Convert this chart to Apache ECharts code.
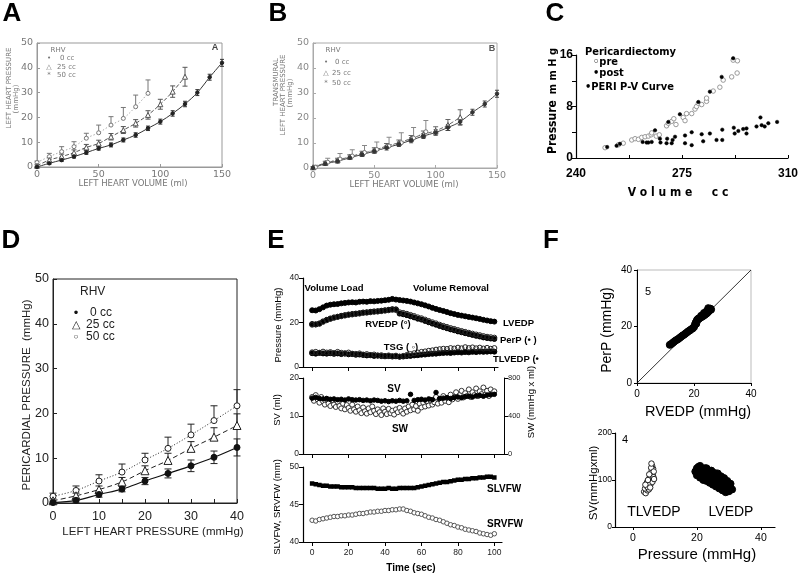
<!DOCTYPE html>
<html><head><meta charset="utf-8">
<script src="https://cdn.jsdelivr.net/npm/echarts@6/dist/echarts.min.js"></script>
<style>html,body{margin:0;padding:0;background:#fff}#c{width:800px;height:573px}</style>
</head><body><div id="c"></div><script>
// ---------- Panel A: left heart pressure vs volume ----------
const aVol0 = [0,10,20,30,40,50,60,70,80,90,100,110,120,130,140,150];
const aP0 = [0,1.5,2.8,4.2,5.8,7.5,8.9,10.9,12.9,15.6,18.3,21.6,25.4,30.0,36.2,42.0];
const aP0Err = [0.3,0.5,0.6,0.6,0.7,0.7,0.8,0.8,0.9,0.9,1.0,1.1,1.1,1.2,1.2,1.4];
const aVol25 = [0,10,20,30,40,50,60,70,80,90,100,110,120];
const aP25 = [0.5,2.8,4.2,5.8,7.9,9.5,12.2,14.9,17.6,21.0,25.3,30.4,36.4];
const aP25Err = [0.4,0.9,1.0,1.1,1.2,1.3,1.3,1.4,1.5,1.7,2.0,2.3,3.8];
const aVol50 = [0,10,20,30,40,50,60,70,80,90];
const aP50 = [1.8,4.2,6.2,8.2,11.6,13.8,16.9,19.6,24.3,29.7];
const aP50Err = [0.6,1.3,2.0,2.0,2.0,3.1,3.4,4.4,4.7,5.4];
// ---------- Panel B: transmural pressure ----------
const bVol0 = [0,10,20,30,40,50,60,70,80,90,100,110,120,130,140,150];
const bP0 = [0,1.7,2.7,4.1,5.4,6.7,8.1,9.5,11.1,12.8,14.2,16.2,18.5,22.3,25.6,29.7];
const bP0Err = [0.2,0.6,0.7,0.7,0.8,0.8,0.9,0.9,1.0,1.0,1.1,1.2,1.3,1.2,1.2,1.4];
const bVol25 = [0,10,20,30,40,50,60,70,80,90,100,110,120];
const bP25 = [0.3,2.0,3.1,4.5,5.8,7.1,8.8,10.1,11.8,13.5,14.9,17.2,20.3];
const bP25Err = [0.3,0.7,0.8,0.8,0.9,1.0,1.0,1.1,1.2,1.3,1.6,2.2,3.0];
const bVol50 = [2,12,22,32,42,52,62,72,82,92];
const bP50 = [0.3,2.3,3.6,4.8,6.2,7.4,8.8,10.1,12.0,14.5];
const bP50Err = [0.8,1.6,2.2,2.5,2.8,3.0,3.5,4.0,4.2,4.5];
// ---------- Panel C: pericardiectomy ----------
const cPreVol = [249.6,254.0,255.6,258.4,259.5,260.6,261.7,262.8,263.9,264.8,265.0,266.5,267.5,269.9,270.5,271.6,272.3,273.0,275.4,276.0,276.5,278.2,279.3,279.8,280.4,281.5,283.1,283.1,285.3,287.5,288.6,291.4,291.9,293.3,293.2];
const cPrePres = [1.6,2.05,2.3,2.8,3.0,2.9,3.2,3.3,3.4,3.6,3.9,3.4,3.6,5.0,5.4,5.7,6.1,5.2,6.3,5.8,6.9,6.9,7.6,8.0,8.5,8.3,8.8,9.3,10.4,11.0,12.1,12.6,15.2,15.1,13.2];
const cPostVol = [250.3,253.4,254.5,262.0,263.3,263.9,265.0,266.1,267.7,267.9,269.9,270.1,271.6,271.9,272.7,270.5,274.3,276.0,276.0,278.2,278.2,280.4,281.5,282.0,284.2,284.2,286.4,288.1,288.3,288.3,291.9,292.1,292.4,293.6,295.2,296.3,296.3,299.6,300.9,301.3,302.3,303.5,306.4];
const cPostPres = [1.7,1.9,2.2,2.5,2.4,2.4,2.5,4.3,3.0,2.4,2.3,3.0,2.3,2.8,3.3,5.6,6.8,3.5,2.3,4.0,2.0,8.7,3.7,2.6,10.3,3.8,2.8,12.6,4.4,2.8,15.5,4.7,3.8,4.2,4.5,4.6,3.8,4.9,6.3,5.1,4.9,5.4,5.6];
// ---------- Panel D: pericardial pressure ----------
const dLHP = [0,5,10,15,20,25,30,35,40];
const dP0 = [0.1,0.6,1.9,3.1,4.9,6.6,8.3,10.2,12.4];
const dP0Err = [0.3,0.4,0.6,0.6,0.8,1.0,1.3,1.4,1.9];
const dP25 = [0.5,1.6,3.0,4.7,7.2,9.5,12.2,14.7,17.3];
const dP25Err = [0.4,0.6,0.8,1.0,1.1,1.6,1.5,2.1,2.6];
const dP50 = [1.5,2.8,4.9,6.9,9.6,12.2,15.2,18.4,21.7];
const dP50Err = [0.7,1.0,1.4,1.8,1.5,2.5,2.4,3.3,3.6];
// ---------- Panel E: time courses ----------
const eTime = [0,2,4,6,8,10,12,14,16,18,20,22,24,26,28,30,32,34,36,38,40,42,44,46,48,50,52,54,56,58,60,62,64,66,68,70,72,74,76,78,80,82,84,86,88,90,92,94,96,98,100];
const eLVEDP = [25.5,25.4,26.0,26.8,27.6,28.0,28.2,28.3,28.6,28.8, 29.0,29.1,29.0,29.3,29.4,29.3,29.6,29.5,29.7,29.8, 30.0,30.2,30.6,30.3,30.1,29.9,29.7,29.4,29.0,28.6, 28.2,27.7,27.2,26.6,26.1,25.6,25.2,24.7,24.2,23.8, 23.4,23.1,22.8,22.5,22.2,21.9,21.6,21.2,20.9,20.6, 20.4];
const ePerP = [19.3,19.1,19.6,20.5,21.2,21.8,22.3,22.6,23.0,23.3, 23.6,23.8,24.0,24.2,24.5,24.6,24.8,25.0,25.1,25.3, 25.5,25.7,26.0,25.9,24.0,23.7,23.3,22.8,22.3,21.7, 21.3,20.7,20.1,19.5,19.0,18.4,17.9,17.4,16.9,16.5, 16.0,15.6,15.2,14.8,14.4,14.0,13.7,13.3,13.0,12.8, 12.6];
const eRVEDP = [19.0,19.2,19.4,20.3,21.0,21.6,22.1,22.5,22.8,23.1, 23.4,23.6,23.8,24.0,24.3,24.4,24.6,24.8,24.9,25.1, 25.3,25.5,25.7,25.6,24.6,24.3,23.9,23.4,22.9,22.3, 21.9,21.3,20.7,20.1,19.6,19.0,18.5,18.0,17.5,17.1, 16.6,16.2,15.8,15.4,15.0,14.6,14.3,13.9,13.6,13.4, 13.2];
const eTLVEDP = [6.2,6.0,6.3,6.1,6.0,6.2,5.9,6.1,5.8,6.0, 5.7,5.8,5.5,5.6,5.4,5.2,5.3,5.0,5.1,4.9, 4.8,4.9,4.7,4.8,4.6,4.7,4.9,5.0,5.2,5.3, 5.5,5.6,5.8,5.9,6.0,6.2,6.3,6.4,6.3,6.5, 6.6,6.5,6.7,6.6,6.8,6.7,6.9,6.8,6.9,7.0, 6.9];
const eTSG = [6.6,6.8,6.4,6.9,6.5,6.7,6.3,6.8,6.4,6.2, 6.5,6.0,5.9,6.1,5.6,5.8,5.4,5.6,5.2,5.3, 5.0,5.2,4.9,5.1,4.7,5.0,5.4,5.8,6.2,6.5, 6.8,7.0,7.3,7.5,7.8,8.0,8.2,8.1,8.5,8.3, 8.7,8.4,8.9,8.5,8.8,8.4,8.7,8.3,8.6,8.2, 8.5];
const eSV = [14.7,14.9,14.6,14.5,14.6,14.4,14.5,14.3,14.4,14.2, 14.5,14.3,14.2,14.3,14.1,14.2,14.0,14.2,14.1,13.9, 14.0,13.8,14.0,13.9,14.1,13.9,14.0,15.7,14.1,14.3, 14.4,14.2,14.5,14.3,16.2,14.6,14.7,14.8,14.6,14.9, 15.0,14.8,15.1,15.2,15.0,15.3,15.4,15.2,15.5,15.6, 15.7];
const eTimeSW = [0,1,2,3,4,5,6,7,8,9,10,11,12,13,14,15,16,17,18,19,20,21,22,23,24,25,26,27,28,29,30,31,32,33,34,35,36,37,38,39,40,41,42,43,44,45,46,47,48,49,50,51,52,53,54,55,56,57,58,59,60,61,62,63,64,65,66,67,68,69,70,71,72,73,74,75,76,77,78,79,80,81,82,83,84,85,86,87,88,89,90,91,92,93,94,95,96,97,98,99,100];
const eSW = [600,560,620,575,540,600,555,520,580,530, 505,565,520,495,550,505,480,530,470,515, 485,455,520,470,445,500,460,430,490,450, 425,480,440,500,455,420,470,440,410,480, 445,420,475,430,455,415,470,440,485,450, 425,480,445,500,460,520,470,505,455,530, 490,540,500,555,510,570,520,545,600,530, 575,540,610,560,590,545,625,575,600,650, 580,620,665,595,640,610,680,600,650,620, 690,610,660,630,700,625,665,610,680,640, 660];
const eSLVFW = [47.8,47.7,47.6,47.5,47.5,47.4,47.4,47.4,47.3,47.3, 47.3,47.3,47.2,47.2,47.2,47.2,47.2,47.2,47.1,47.1, 47.1,47.2,47.1,47.1,47.2,47.2,47.2,47.2,47.2,47.3, 47.4,47.5,47.6,47.7,47.8,47.9,48.0,48.0,48.1,48.2, 48.3,48.3,48.4,48.4,48.5,48.5,48.6,48.6,48.7,48.7, 48.6];
const eSRVFW = [42.9,42.8,43.0,43.1,43.2,43.3,43.4,43.4,43.5,43.5, 43.6,43.6,43.7,43.8,43.8,43.9,44.0,44.0,44.1,44.1, 44.2,44.2,44.3,44.3,44.4,44.4,44.2,44.1,43.9,43.8, 43.7,43.5,43.3,43.2,43.0,42.9,42.7,42.5,42.3,42.2, 42.0,41.9,41.7,41.6,41.5,41.4,41.2,41.1,41.0,40.9, 41.1];
// ---------- Panel F ----------
const fRVEDP = [11.5,12,12.5,13,13.5,14,14.5,15,15.5,16,16.5,17,17.5,18,18.5,19,19.5,20,20.3,20.6,21,21.3,21.6,22,22.4,22.8,23.2,23.6,24,24.4,24.8,25.2,25.6,25.8,24.5,23.5,22.5,21.5,20.8,25,26];
const fPerP = [13.5,13.8,14.2,14.6,15.0,15.3,15.6,16.0,16.4,16.8,17.1,17.5,17.9,18.3,18.6,19.0,19.3,19.8,20.6,21.4,22.2,22.6,22.8,23.0,23.2,23.5,23.7,24.0,24.3,24.6,25.0,25.4,25.8,26.3,25.5,24.8,23.8,22.5,21.0,26.5,26.0];
const fTLVEDPx = [3.5,4,4.5,3.8,4.2,5,4.6,5.3,4.4,5,5.6,5.2,6,5.5,6.2,5.8,6.4,5.9,6.3,6,5.7,6.5,4.9,3.9,5.4,6.1,5.1,6.6,4.7,5.8];
const fTLVEDPy = [75,72,78,82,88,80,85,90,95,98,92,104,100,108,110,115,106,120,124,130,126,118,92,90,84,96,112,102,100,135];
const fLVEDPx = [19.5,20,20.5,21,21,21.5,22,22,22.5,23,23,23.5,24,24,24.5,25,25,25.5,26,26,26.5,27,27,27.5,28,28,28.5,29,29,29.5,30,30,30.5,29,28,27,26,25,24,23,22,21,20,20.5,22.5,24.5,26.5,28.5,30.5,20,21.5,23.5,25.5,27.5,29.5,31];
const fLVEDPy = [118,125,112,130,120,115,122,108,118,112,125,105,115,102,110,98,112,105,95,108,100,90,104,96,86,100,92,84,96,80,88,76,82,74,78,82,86,90,94,98,100,105,110,128,125,120,114,104,92,116,122,118,115,108,98,80];
const fDiag = [0,40];

const LS = 'Liberation Sans, Arial, sans-serif';
const DJ = 'DejaVu Sans, sans-serif';
const NR = 'Liberation Sans Narrow, DejaVu Sans Condensed, Arial Narrow, sans-serif';

function pairs(xs, ys){ return xs.map((x,i)=>[x, ys[i]]); }

function vAxis(gi, min, max, o){
  const ax = {type:'value', gridIndex:gi, min:min, max:max, position:o.pos,
    splitLine:{show:false},
    axisLine:{show:true, onZero:false, lineStyle:{color:o.color||'#000', width:o.lw||1}},
    axisTick:{show:true, inside:!!o.tickIn, length:o.tickLen||4, lineStyle:{color:o.color||'#000', width:1}},
    axisLabel:{show:o.labels!==null, fontSize:o.fs||10, color:o.lc||'#000', fontFamily:o.ff||LS, fontWeight:o.fw||'normal', margin:o.margin==null?4:o.margin, hideOverlap:false}
  };
  if (o.ticks) ax.axisTick.customValues = o.ticks;
  if (o.labels) ax.axisLabel.customValues = o.labels;
  return ax;
}

function errBars(xs, ys, lo, hi, xi, yi, color, cap){
  return {type:'custom', xAxisIndex:xi, yAxisIndex:yi, silent:true, z:3, clip:false, animation:false,
    data: xs.map((x,i)=>[x, ys[i]-lo[i], ys[i]+hi[i], lo[i]>0?1:0]),
    encode:{x:0, y:[1,2]},
    renderItem: function(params, api){
      const a = api.coord([api.value(0), api.value(1)]);
      const b = api.coord([api.value(0), api.value(2)]);
      const st = {stroke:color, lineWidth:1};
      const ch = [
        {type:'line', shape:{x1:a[0],y1:a[1],x2:b[0],y2:b[1]}, style:st},
        {type:'line', shape:{x1:b[0]-cap,y1:b[1],x2:b[0]+cap,y2:b[1]}, style:st}];
      if (api.value(3)) ch.push({type:'line', shape:{x1:a[0]-cap,y1:a[1],x2:a[0]+cap,y2:a[1]}, style:st});
      return {type:'group', children:ch};
    }};
}
function curve(xs, ys, ax, o){
  return {type:'line', xAxisIndex:ax, yAxisIndex:ax, data:pairs(xs,ys), smooth:0.35, silent:true, z:4,
    symbol:o.symbol, symbolSize:o.size, showAllSymbol:true,
    itemStyle:{color:o.fill, borderColor:o.stroke, borderWidth:1},
    lineStyle:{color:o.lc, width:o.lw||1, type:o.dash||'solid'}};
}
function dots(xs, ys, xi, yi, o){
  return {type:'scatter', xAxisIndex:xi, yAxisIndex:yi, data:pairs(xs,ys), silent:true, z:o.z||4,
    symbol:o.symbol||'circle', symbolSize:o.size,
    itemStyle:{color:o.fill, borderColor:o.stroke, borderWidth:o.bw==null?1:o.bw, opacity:1}};
}
function T(x, y, text, o){
  o = o || {};
  return {type:'text', x:x, y:y, rotation:o.rot?Math.PI/2:0, silent:true, z:50,
    style:{text:text, fill:o.color||'#000', fontSize:o.fs||10, fontFamily:o.ff||LS, fontWeight:o.fw||'normal',
      align:o.align||'center', verticalAlign:'middle', lineHeight:o.lh}};
}

const grids = [
  {left:37, top:43, width:185, height:124, show:true, borderColor:'#999', borderWidth:1},   // A
  {left:313, top:43, width:184, height:125, show:true, borderColor:'#aaa', borderWidth:1},  // B
  {left:576, top:55, width:212, height:103},                                                 // C
  {left:53, top:279, width:184, height:224, show:true, borderColor:'#222', borderWidth:1},  // D
  {left:303, top:278, width:195, height:89},                                                 // E1
  {left:303, top:378, width:201, height:76},                                                 // E2
  {left:303, top:467, width:199, height:75},                                                 // E3
  {left:637, top:270, width:114, height:113, show:true, borderColor:'#bbb', borderWidth:1}, // F1
  {left:615, top:433, width:160, height:94}                                                  // F2
].map(g => Object.assign({outerBoundsMode:'none', containLabel:false}, g));

const tE = [0,20,40,60,80,100];
const xAxes = [
  vAxis(0, 0, 150, {color:'#999', lc:'#777', ff:DJ, fs:9.5, tickIn:true, tickLen:3, margin:3, ticks:[0,50,100,150], labels:[0,50,100,150]}),
  vAxis(1, 0, 150, {color:'#aaa', lc:'#888', ff:DJ, fs:9.5, tickIn:true, tickLen:3, margin:3, ticks:[0,50,100,150], labels:[0,50,100,150]}),
  vAxis(2, 240, 310, {lw:1.2, fs:12, fw:'bold', tickIn:true, tickLen:3, margin:10, ticks:[240,257.5,275,292.5,310], labels:[240,275,310]}),
  vAxis(3, 0, 40, {color:'#222', lc:'#222', fs:12.5, tickIn:true, tickLen:4, margin:7, ticks:[0,5,10,15,20,25,30,35,40], labels:[0,10,20,30,40]}),
  vAxis(4, -5, 102, {lw:1.2, tickLen:4, ticks:tE, labels:null}),
  vAxis(5, -5, 105.3, {lw:1.2, tickLen:4, ticks:tE, labels:null}),
  vAxis(6, -5, 104.2, {lw:1.2, tickLen:4, fs:8.5, lc:'#222', margin:6, ticks:tE, labels:tE}),
  vAxis(7, 0, 40, {lw:1, fs:10, margin:6, tickLen:3, ticks:[0,20,40], labels:[0,20,40]}),
  vAxis(8, -5.6, 44.4, {lw:1.2, fs:10.5, margin:6, tickLen:3, ticks:[0,20,40], labels:[0,20,40]})
];
const yAxes = [
  vAxis(0, 0, 50, {color:'#999', lc:'#777', ff:DJ, fs:9.5, tickIn:true, tickLen:3, margin:4, ticks:[0,10,20,30,40,50], labels:[0,10,20,30,40,50]}),
  vAxis(1, 0, 50, {color:'#aaa', lc:'#888', ff:DJ, fs:9.5, tickIn:true, tickLen:3, margin:4, ticks:[0,10,20,30,40,50], labels:[0,10,20,30,40,50]}),
  vAxis(2, 0, 16, {lw:1.2, fs:12, fw:'bold', tickLen:4, margin:3, ticks:[0,4,8,12,16], labels:[0,8,16]}),
  vAxis(3, 0, 50, {color:'#222', lc:'#222', fs:12.5, tickIn:true, tickLen:4, margin:4, ticks:[0,10,20,30,40,50], labels:[0,10,20,30,40,50]}),
  vAxis(4, 0, 40, {lw:1.2, fs:8.5, lc:'#222', tickLen:4, margin:4, ticks:[0,20,40], labels:[0,20,40]}),
  vAxis(5, 0, 20, {lw:1.2, fs:8.5, lc:'#222', tickLen:4, margin:4, ticks:[0,10,20], labels:[0,10,20]}),
  vAxis(5, 0, 800, {pos:'right', lw:1, fs:7.5, lc:'#222', tickLen:4, margin:4, ticks:[0,400,800], labels:[0,400,800]}),
  vAxis(6, 40, 50, {lw:1.2, fs:8.5, lc:'#222', tickLen:4, margin:4, ticks:[40,45,50], labels:[40,45,50]}),
  vAxis(7, 0, 40, {lw:1, fs:10, tickLen:3, margin:5, ticks:[0,20,40], labels:[0,20,40]}),
  vAxis(8, 0, 200, {lw:1.2, fs:8.5, tickLen:3, margin:3, ticks:[0,100,200], labels:[0,100,200]})
];

const series = [
  // A
  errBars(aVol50, aP50, aP50.map(()=>0), aP50Err, 0, 0, '#777', 2.5),
  errBars(aVol25, aP25, aP25Err, aP25Err, 0, 0, '#555', 2.5),
  errBars(aVol0, aP0, aP0Err, aP0Err, 0, 0, '#333', 2),
  curve(aVol50, aP50, 0, {symbol:'circle', size:4, fill:'#fff', stroke:'#777', lc:'#aaa', dash:[1.5,2]}),
  curve(aVol25, aP25, 0, {symbol:'triangle', size:5, fill:'#fff', stroke:'#555', lc:'#555', dash:[4,2]}),
  curve(aVol0, aP0, 0, {symbol:'circle', size:3.5, fill:'#222', stroke:'#222', lc:'#333'}),
  // B
  errBars(bVol50, bP50, bP50.map(()=>0), bP50Err, 1, 1, '#888', 2.5),
  errBars(bVol25, bP25, bP25Err, bP25Err, 1, 1, '#666', 2.5),
  errBars(bVol0, bP0, bP0Err, bP0Err, 1, 1, '#444', 2),
  curve(bVol50, bP50, 1, {symbol:'circle', size:4, fill:'#fff', stroke:'#777', lc:'#aaa', dash:[1.5,2]}),
  curve(bVol25, bP25, 1, {symbol:'triangle', size:5, fill:'#fff', stroke:'#555', lc:'#666', dash:[4,2]}),
  curve(bVol0, bP0, 1, {symbol:'circle', size:3.5, fill:'#333', stroke:'#333', lc:'#444'}),
  // C
  dots(cPreVol, cPrePres, 2, 2, {size:4.5, fill:'#fff', stroke:'#999'}),
  dots(cPostVol, cPostPres, 2, 2, {size:3.5, fill:'#000', stroke:'#000', bw:0.5}),
  // D
  errBars(dLHP, dP50, dP50.map(()=>0), dP50Err, 3, 3, '#222', 3.5),
  errBars(dLHP, dP25, dP25.map(()=>0), dP25Err, 3, 3, '#222', 3.5),
  errBars(dLHP, dP0, dP0Err, dP0Err, 3, 3, '#222', 3.5),
  curve(dLHP, dP50, 3, {symbol:'circle', size:6, fill:'#fff', stroke:'#222', lc:'#222', dash:[1,2]}),
  curve(dLHP, dP25, 3, {symbol:'triangle', size:8, fill:'#fff', stroke:'#222', lc:'#222', dash:[5,3]}),
  curve(dLHP, dP0, 3, {symbol:'circle', size:6, fill:'#111', stroke:'#111', lc:'#111', lw:1.2}),
  // E1
  dots(eTime, eLVEDP, 4, 4, {size:5, fill:'#000', stroke:'#000'}),
  dots(eTime, eTLVEDP, 4, 4, {size:5, fill:'#000', stroke:'#000'}),
  dots(eTime, eTSG, 4, 4, {size:5, fill:'rgba(255,255,255,0)', stroke:'#222', z:5}),
  dots(eTime, ePerP, 4, 4, {size:5, fill:'#000', stroke:'#000'}),
  dots(eTime, eRVEDP, 4, 4, {size:5, fill:'rgba(255,255,255,0)', stroke:'#222', z:5}),
  // E2
  dots(eTimeSW, eSW, 5, 6, {size:5, fill:'#fff', stroke:'#333'}),
  dots(eTime, eSV, 5, 5, {size:4.5, fill:'#000', stroke:'#000', z:6}),
  // E3
  {type:'line', xAxisIndex:6, yAxisIndex:7, data:pairs(eTime,eSLVFW), symbol:'rect', symbolSize:4.5, showAllSymbol:true, silent:true,
    itemStyle:{color:'#000'}, lineStyle:{color:'#000', width:1.5}},
  {type:'line', xAxisIndex:6, yAxisIndex:7, data:pairs(eTime,eSRVFW), symbol:'circle', symbolSize:4.5, showAllSymbol:true, silent:true,
    itemStyle:{color:'#fff', borderColor:'#555', borderWidth:1}, lineStyle:{color:'#777', width:1.2}},
  // F1
  {type:'line', xAxisIndex:7, yAxisIndex:8, data:pairs(fDiag,fDiag), symbol:'none', silent:true, lineStyle:{color:'#000', width:0.8}, z:2},
  dots(fRVEDP, fPerP, 7, 8, {size:7, fill:'#000', stroke:'#000'}),
  // F2
  dots(fTLVEDPx, fTLVEDPy, 8, 9, {size:5.5, fill:'#fff', stroke:'#222'}),
  dots(fLVEDPx, fLVEDPy, 8, 9, {size:7, fill:'#000', stroke:'#000'})
];

const big = {fs:26, fw:'bold'};
const gAB = {fs:7, ff:DJ, color:'#777'};
const gTitle = {fs:8.5, ff:DJ, color:'#777'};
const cB = {fs:11, ff:NR, fw:'bold', align:'left'};
const eB = {fs:9.5, fw:'bold'};
const graphic = [
  T(12,14,'A',big), T(278,14,'B',big), T(555,14,'C',big),
  T(11,241,'D',big), T(276,241,'E',big), T(551,241,'F',big),
  // A
  T(9.5,88,'LEFT HEART PRESSURE',Object.assign({rot:1},gAB)), T(16.5,99,'(mmHg)',Object.assign({rot:1},gAB)),
  T(133,184,'LEFT HEART VOLUME (ml)',gTitle),
  T(58,50,'RHV',gAB), T(49,58,'•',gAB), T(60,58,'0 cc',Object.assign({align:'left'},gAB)),
  T(49,67,'△',gAB), T(57,67,'25 cc',Object.assign({align:'left'},gAB)),
  T(49,75,'*',gAB), T(57,75,'50 cc',Object.assign({align:'left'},gAB)),
  T(215,48,'A',{fs:9,fw:'bold',color:'#444'}),
  // B
  T(276.5,82,'TRANSMURAL',Object.assign({rot:1},gAB)), T(283.5,95,'LEFT HEART PRESSURE',Object.assign({rot:1},gAB)),
  T(290.5,93,'(mmHg)',Object.assign({rot:1},gAB)),
  T(404,185,'LEFT HEART VOLUME (ml)',gTitle),
  T(333,50,'RHV',gAB), T(326,62,'•',gAB), T(335,62,'0 cc',Object.assign({align:'left'},gAB)),
  T(326,73,'△',gAB), T(332,73,'25 cc',Object.assign({align:'left'},gAB)),
  T(326,83,'*',gAB), T(332,83,'50 cc',Object.assign({align:'left'},gAB)),
  T(492,49,'B',{fs:9,fw:'bold',color:'#555'}),
  // C
  T(585,52,'Pericardiectomy',cB), T(593,62,'◦pre',cB), T(593,73,'•post',cB), T(585,87,'•PERI P-V Curve',cB),
  T(553,127,'Pressure',{fs:12,ff:NR,fw:'bold',rot:1}), T(553,71,'m m H g',{fs:11,ff:NR,fw:'bold',rot:1}),
  T(660,193,'V o l u m e',{fs:12,ff:NR,fw:'bold'}), T(720,193,'c c',{fs:12,ff:NR,fw:'bold'}),
  // D
  T(27,395,'PERICARDIAL PRESSURE  (mmHg)',{fs:11.5,color:'#222',rot:1}),
  T(153,532,'LEFT HEART PRESSURE (mmHg)',{fs:11.5,color:'#222'}),
  T(80,292,'RHV',{fs:12,align:'left',color:'#222'}),
  T(76,313,'•',{fs:13,color:'#111'}), T(90,313,'0 cc',{fs:12,align:'left',color:'#222'}),
  T(76,325,'△',{fs:11,color:'#222'}), T(86,325,'25 cc',{fs:12,align:'left',color:'#222'}),
  T(76,337,'○',{fs:8,color:'#222'}), T(86,337,'50 cc',{fs:12,align:'left',color:'#222'}),
  // E
  T(278,325,'Pressure (mmHg)',{fs:9.5,rot:1}),
  T(334,288,'Volume Load',eB), T(451,288,'Volume Removal',eB),
  T(503,323,'LVEDP',Object.assign({align:'left'},eB)), T(388,324,'RVEDP (°)',eB),
  T(500,340,'PerP (• )',Object.assign({align:'left'},eB)), T(401,347,'TSG ( ◦)',eB),
  T(493,359,'TLVEDP (•',Object.assign({align:'left'},eB)),
  T(394,389,'SV',{fs:10,fw:'bold'}), T(400,429,'SW',{fs:10,fw:'bold'}),
  T(277,410,'SV (ml)',{fs:9.5,rot:1}), T(531,402,'SW (mmHg x ml)',{fs:9.5,rot:1}),
  T(277,507,'SLVFW, SRVFW (mm)',{fs:9.5,rot:1}),
  T(487,489,'SLVFW',{fs:10,fw:'bold',align:'left'}), T(487,524,'SRVFW',{fs:10,fw:'bold',align:'left'}),
  T(411,568,'Time (sec)',{fs:10,fw:'bold'}),
  // F
  T(648,292,'5',{fs:11}), T(607,330,'PerP (mmHg)',{fs:14,rot:1}), T(698,412,'RVEDP (mmHg)',{fs:14.5}),
  T(625,440,'4',{fs:11}), T(654,512,'TLVEDP',{fs:14}), T(731,512,'LVEDP',{fs:14}),
  T(697,555,'Pressure (mmHg)',{fs:15}), T(594,483,'SV(mmHgxml)',{fs:11.5,rot:1})
];

const chart = echarts.init(document.getElementById('c'), null, {renderer:'canvas', width:800, height:573});
chart.setOption({animation:false, backgroundColor:'#fff', grid:grids, xAxis:xAxes, yAxis:yAxes, series:series, graphic:graphic});
</script></body></html>
